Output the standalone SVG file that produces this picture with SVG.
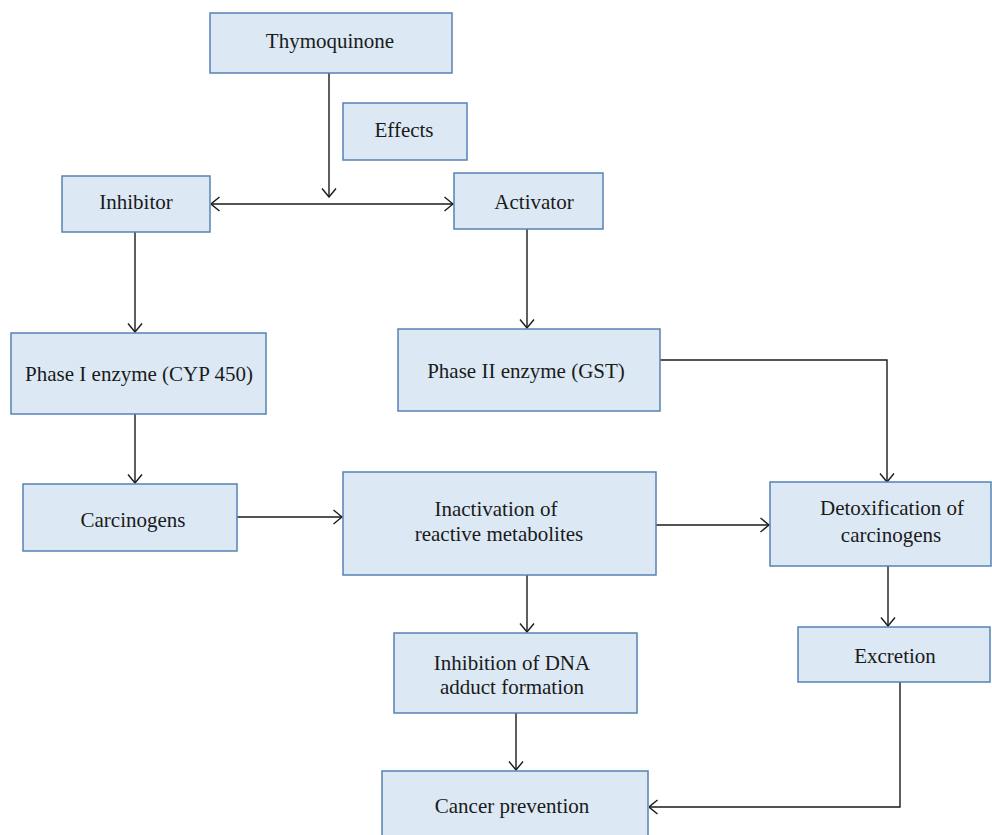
<svg xmlns="http://www.w3.org/2000/svg" width="992" height="835" viewBox="0 0 992 835">
<defs>
<style>
.box{fill:#dce9f5;stroke:#5683b3;stroke-width:1.5}
.t{font-family:"Liberation Serif","Times New Roman",serif;font-size:21px;fill:#1a1a1a;text-anchor:middle}
.c{fill:none;stroke:#1a1a1a;stroke-width:1.4}
</style>
<marker id="ah" viewBox="0 0 10 16" refX="9.5" refY="8" markerWidth="10" markerHeight="16" markerUnits="userSpaceOnUse" orient="auto-start-reverse">
<path d="M1,1 L9.5,8 L1,15" fill="none" stroke="#1a1a1a" stroke-width="1.4"/>
</marker>
</defs>
<rect width="992" height="835" fill="#ffffff"/>
<g id="connectors">
<path class="c" d="M329,73 V197" marker-end="url(#ah)"/>
<path class="c" d="M211,204 H453" marker-start="url(#ah)" marker-end="url(#ah)"/>
<path class="c" d="M135,232 V332" marker-end="url(#ah)"/>
<path class="c" d="M527,229 V328" marker-end="url(#ah)"/>
<path class="c" d="M660,360 H887 V482" marker-end="url(#ah)"/>
<path class="c" d="M135,414 V483" marker-end="url(#ah)"/>
<path class="c" d="M237,517 H342" marker-end="url(#ah)"/>
<path class="c" d="M656,525 H769" marker-end="url(#ah)"/>
<path class="c" d="M888,566 V626" marker-end="url(#ah)"/>
<path class="c" d="M527,575 V632" marker-end="url(#ah)"/>
<path class="c" d="M516,713 V770" marker-end="url(#ah)"/>
<path class="c" d="M900,682 V807 H649" marker-end="url(#ah)"/>
</g>
<g id="thymoquinone"><rect class="box" x="210" y="13" width="242" height="60"/><text class="t" x="330" y="48">Thymoquinone</text></g>
<g id="effects"><rect class="box" x="343" y="103" width="124" height="57"/><text class="t" x="404" y="137">Effects</text></g>
<g id="inhibitor"><rect class="box" x="62" y="176" width="148" height="56"/><text class="t" x="136" y="209">Inhibitor</text></g>
<g id="activator"><rect class="box" x="454" y="173" width="149" height="56"/><text class="t" x="534" y="209">Activator</text></g>
<g id="phase1"><rect class="box" x="11" y="333" width="255" height="81"/><text class="t" x="139" y="381">Phase I enzyme (CYP 450)</text></g>
<g id="phase2"><rect class="box" x="398" y="329" width="262" height="82"/><text class="t" x="526" y="378">Phase II enzyme (GST)</text></g>
<g id="carcinogens"><rect class="box" x="23" y="484" width="214" height="67"/><text class="t" x="133" y="527">Carcinogens</text></g>
<g id="inactivation"><rect class="box" x="343" y="472" width="313" height="103"/><text class="t" x="496" y="516">Inactivation of</text><text class="t" x="499" y="541">reactive metabolites</text></g>
<g id="detoxification"><rect class="box" x="770" y="482" width="221" height="84"/><text class="t" x="892" y="515">Detoxification of</text><text class="t" x="891" y="542">carcinogens</text></g>
<g id="excretion"><rect class="box" x="798" y="627" width="192" height="55"/><text class="t" x="895" y="663">Excretion</text></g>
<g id="inhibition-dna"><rect class="box" x="394" y="633" width="243" height="80"/><text class="t" x="512" y="670">Inhibition of DNA</text><text class="t" x="512" y="694">adduct formation</text></g>
<g id="cancer-prevention"><rect class="box" x="382" y="771" width="266" height="70"/><text class="t" x="512" y="813">Cancer prevention</text></g>
</svg>
